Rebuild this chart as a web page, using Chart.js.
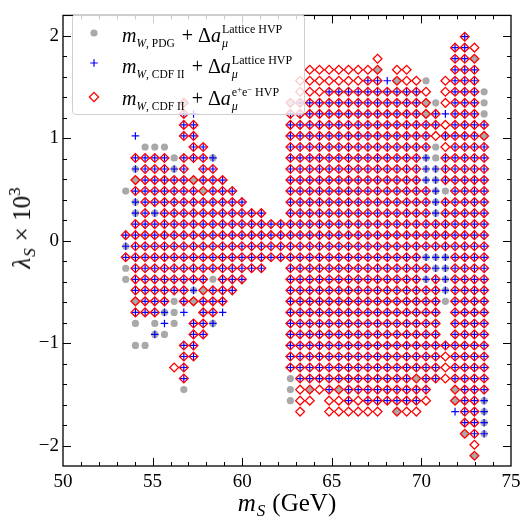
<!DOCTYPE html>
<html>
<head>
<meta charset="utf-8">
<script src="https://cdn.jsdelivr.net/npm/chart.js@4.4.0/dist/chart.umd.min.js"></script>
<style>
  html, body { margin: 0; padding: 0; background: #fff; }
  #wrap { position: relative; width: 529px; height: 530px; font-family: "Liberation Serif", "DejaVu Serif", serif; color: #000; }
  #chart { position: absolute; left: 0; top: 0; }
  sub, sup { line-height: 0; }
  .title { position: absolute; white-space: nowrap; font-size: 25px; transform: translate(-50%, -50%); }
  .title i { letter-spacing: 1px; }
  .title sub { font-size: 17px; vertical-align: -5px; margin-right: 6px; }
  .title sup { font-size: 17px; vertical-align: 10px; }
  #ytitle { transform: translate(-50%, -50%) rotate(-90deg); }
  .legend { position: absolute; left: 72px; top: 14px; width: 233px; height: 101px; box-sizing: border-box;
            background: rgba(255,255,255,0.8); border: 1px solid #cfcfcf; border-radius: 4px; }
  .legend svg { position: absolute; left: 13px; width: 16px; height: 16px; }
  .legend .lbl { position: absolute; left: 49px; font-size: 20px; line-height: 20px; white-space: nowrap; }
  .lbl sub { font-size: 11.5px; vertical-align: -5px; margin-right: 2px; }
  .ss { display: inline-flex; flex-direction: column; font-size: 12px; line-height: 14px; vertical-align: 9px; margin-left: 1px; }
  .ss sup { font-size: 8.5px; vertical-align: 4px; }
</style>
</head>
<body>
<div id="wrap">
  <canvas id="chart" width="529" height="530"></canvas>
  <div class="legend">
    <svg style="top:10px" viewBox="-8 -8 16 16"><circle cx="0" cy="0" r="3.6" fill="#a9a9a9"/></svg>
    <div class="lbl" style="top:7px"><i>m</i><sub><i>W</i>, PDG</sub> + &Delta;<i>a</i><span class="ss"><span>Lattice HVP</span><span><i>&mu;</i></span></span></div>
    <svg style="top:40px" viewBox="-8 -8 16 16"><path d="M-3.8 0H3.8M0 -3.8V3.8" stroke="#0000ff" stroke-width="1.2" fill="none"/></svg>
    <div class="lbl" style="top:38px"><i>m</i><sub><i>W</i>, CDF II</sub> + &Delta;<i>a</i><span class="ss"><span>Lattice HVP</span><span><i>&mu;</i></span></span></div>
    <svg style="top:74px" viewBox="-8 -8 16 16"><path d="M0 -4.6L4.6 0L0 4.6L-4.6 0Z" stroke="#ff0000" stroke-width="1.3" fill="none"/></svg>
    <div class="lbl" style="top:70px"><i>m</i><sub><i>W</i>, CDF II</sub> + &Delta;<i>a</i><span class="ss"><span>e<sup>+</sup>e<sup>&minus;</sup> HVP</span><span><i>&mu;</i></span></span></div>
  </div>
  <div class="title" id="xtitle" style="left:287px; top:503px;"><i>m</i><sub><i>S</i></sub>(GeV)</div>
  <div class="title" id="ytitle" style="left:22px; top:228px;"><i>&lambda;</i><sub><i>S</i></sub>&times; 10<sup>3</sup></div>
</div>
<script>
// scan grid: m_S (GeV), one value per column
const mS = [53.500, 54.041, 54.581, 55.122, 55.662, 56.203, 56.743, 57.284, 57.824, 58.365,
            58.905, 59.446, 59.986, 60.527, 61.068, 61.608, 62.149, 62.689, 63.230, 63.770,
            64.311, 64.851, 65.392, 65.932, 66.473, 67.014, 67.554, 68.095, 68.635, 69.176,
            69.716, 70.257, 70.797, 71.338, 71.878, 72.419, 72.959, 73.500];
// lambda_S x 10^3, one value per row (bottom to top)
const lambdaS = [-2.100, -1.992, -1.885, -1.777, -1.669, -1.562, -1.454, -1.346, -1.238, -1.131,
                 -1.023, -0.915, -0.808, -0.700, -0.592, -0.485, -0.377, -0.269, -0.162, -0.054,
                 0.054, 0.162, 0.269, 0.377, 0.485, 0.592, 0.700, 0.808, 0.915, 1.023,
                 1.131, 1.238, 1.346, 1.454, 1.562, 1.669, 1.777, 1.885, 1.992, 2.100];
const xTicks = [50, 55, 60, 65, 70, 75];
const yTicks = [-2, -1, 0, 1, 2];

// allowed points, top row first
// g = PDG + lattice, p = CDF II + lattice, d = CDF II + e+e-
// x = p+d, q = g+d, h = g+p, a = all three
const pointMap = [
  '......................................', // 2.100
  '...................................x..', // 1.992
  '..................................xxd.',
  '..........................d.......xxq.',
  '...................dddddddq.dd....xxx.',
  '..................dddddddxxpqddg.dxxx.',
  '..................dddxxxxxxxxxxd.dxxxg',
  '......q..........qxxxxxxxxxxxxxqgdxxxg',
  '......xp.........xxxxxxxxxxxxxxqxpxxxg',
  '......xx.........xxxxxxxxxxxxxxxxdxxxx',
  '.p....xx.........xxxxxxxxxxxxxxxdxxxxq', // 1.023
  '..ggg..xx........xxxxxxxxxxxxxxxgdxxxx',
  '.xxxxgxxxh.......xxxxxxxxxxxxxxhgxxxxx',
  '.hxxxhx.xx.......xxxxxxxxxxxxxxhhxxxxx',
  '.qxxxxxqxxx......xxxxxxxxxxxxxxhhxxxxx',
  'gxxxxxxxqxxx.....xxxxxxxxxxxxxxxhgxxxx',
  '.hxxxxxxxxxxx....xxxxxxxxxxxxxxxhxxxxx',
  '.hxhxxxxxxxxxxx..xxxxxxxxxxxxxxxhxxxxx',
  '.xxxxxxxxxxxxxxxxxxxxxxxxxxxxxxxxxxxxx',
  'xxxxxxxxxxxxxxxxxxxxxxxxxxxxxxxxxxxxxx', // 0.054
  'hxxxxxxxxxxxxxxxxxxxxxxxxxxxxxxxxxxxxx', // -0.054
  'xxxxxxxxxxxxxxxxxxxxxxxxxxxxxxxhhhxxxx',
  'gxxxxxxxxxxxxxx..xxxxxxxxxxxxxxxhhxxxx',
  'gxxxxxxxxgxxx....xxxxxxxxxxxxxxhxhxxxx',
  '.xxxxxxhqxxx.....xxxxxxxxxxxxxxxxhxxxx',
  '.qxxxgxqxxx......xxxxxxxxxxxxxxxxgxxxx',
  '.xxxhgp.xxp......xxxxxxxxxxxxxxxx.xxxx',
  '.g.gpg.xxh.......xxxxxxxxxxxxxxxx.xxxx',
  '...hg..xx........xxxxxxxxxxxxxxxx.xxxx',
  '.gg...xx.........xxxxxxxxxxxxxxxxxxxxx', // -1.023
  '......xx.........xxxxxxxxxxxxxxxxdxxxx',
  '.....dx..........xxxxxxxxxxxxxxxxdxxxx',
  '......x..........gxxxxxxxxxxxxqxxdxxxx',
  '......g..........gdqdxqxxxxxxxxx..qxxx',
  '.................gdd.ddxdxxxxxxd..qxxh',
  '..................d..dddddd.qdd...pxxh',
  '...................................xxh',
  '...................................qxh',
  '....................................d.',
  '....................................q.'  // -2.100
];

const pdgPts = [], cdfLatticePts = [], cdfEePts = [];
pointMap.forEach((row, k) => {
  const lam = lambdaS[lambdaS.length - 1 - k];
  for (let i = 0; i < mS.length; i++) {
    const c = row[i];
    const pt = { x: mS[i], y: lam };
    if ('gqha'.includes(c)) pdgPts.push(pt);
    if ('pxha'.includes(c)) cdfLatticePts.push(pt);
    if ('dxqa'.includes(c)) cdfEePts.push(pt);
  }
});

// inward ticks on all four sides plus the frame
const frameTicks = {
  id: 'frameTicks',
  afterDatasetsDraw(chart) {
    const { ctx, chartArea: a, scales: { x, y } } = chart;
    ctx.save();
    ctx.strokeStyle = '#000';
    ctx.lineWidth = 1;
    ctx.beginPath();
    for (let v = 51; v < 75; v++) {
      const px = Math.round(x.getPixelForValue(v)) + 0.5;
      const len = v % 5 === 0 ? 8 : 4;
      ctx.moveTo(px, a.bottom); ctx.lineTo(px, a.bottom - len);
      ctx.moveTo(px, a.top); ctx.lineTo(px, a.top + len);
    }
    for (let k = -10; k <= 10; k++) {
      const py = Math.round(y.getPixelForValue(k * 0.2)) + 0.5;
      const len = k % 5 === 0 ? 8 : 4;
      ctx.moveTo(a.left, py); ctx.lineTo(a.left + len, py);
      ctx.moveTo(a.right, py); ctx.lineTo(a.right - len, py);
    }
    ctx.stroke();
    ctx.lineWidth = 1.3;
    ctx.strokeRect(a.left, a.top, a.right - a.left, a.bottom - a.top);
    ctx.restore();
  }
};

const tickFont = { family: '"Liberation Serif", "DejaVu Serif", serif', size: 19 };
const minus = v => (v < 0 ? '\u2212' + Math.abs(v) : String(v));

new Chart(document.getElementById('chart'), {
  type: 'scatter',
  data: {
    datasets: [
      { label: 'PDG + Lattice HVP', data: pdgPts, order: 2, pointStyle: 'circle', pointRadius: 3.6,
        backgroundColor: '#a9a9a9', borderWidth: 0 },
      { label: 'CDF II + Lattice HVP', data: cdfLatticePts, order: 1, pointStyle: 'cross', pointRadius: 3.8,
        borderColor: '#0000ff', borderWidth: 1.2 },
      { label: 'CDF II + e+e- HVP', data: cdfEePts, order: 0, pointStyle: 'rectRot', pointRadius: 4.4,
        borderColor: '#ff0000', backgroundColor: 'rgba(0,0,0,0)', borderWidth: 1.3 }
    ]
  },
  options: {
    responsive: false,
    animation: false,
    devicePixelRatio: 1,
    layout: { padding: { top: 7, right: 18, left: 0, bottom: 0 } },
    plugins: { legend: { display: false }, tooltip: { enabled: false } },
    scales: {
      x: {
        type: 'linear', min: 50, max: 75,
        grid: { display: false, drawTicks: false },
        border: { display: false },
        afterBuildTicks: s => { s.ticks = xTicks.map(v => ({ value: v })); },
        afterFit: s => { s.height = 64; },
        ticks: { font: tickFont, color: '#000', padding: 5, maxRotation: 0 }
      },
      y: {
        type: 'linear', min: -2.2, max: 2.2,
        grid: { display: false, drawTicks: false },
        border: { display: false },
        afterBuildTicks: s => { s.ticks = yTicks.map(v => ({ value: v })); },
        afterFit: s => { s.width = 63; },
        ticks: { font: tickFont, color: '#000', padding: 4, callback: minus }
      }
    }
  },
  plugins: [frameTicks]
});
</script>
</body>
</html>
